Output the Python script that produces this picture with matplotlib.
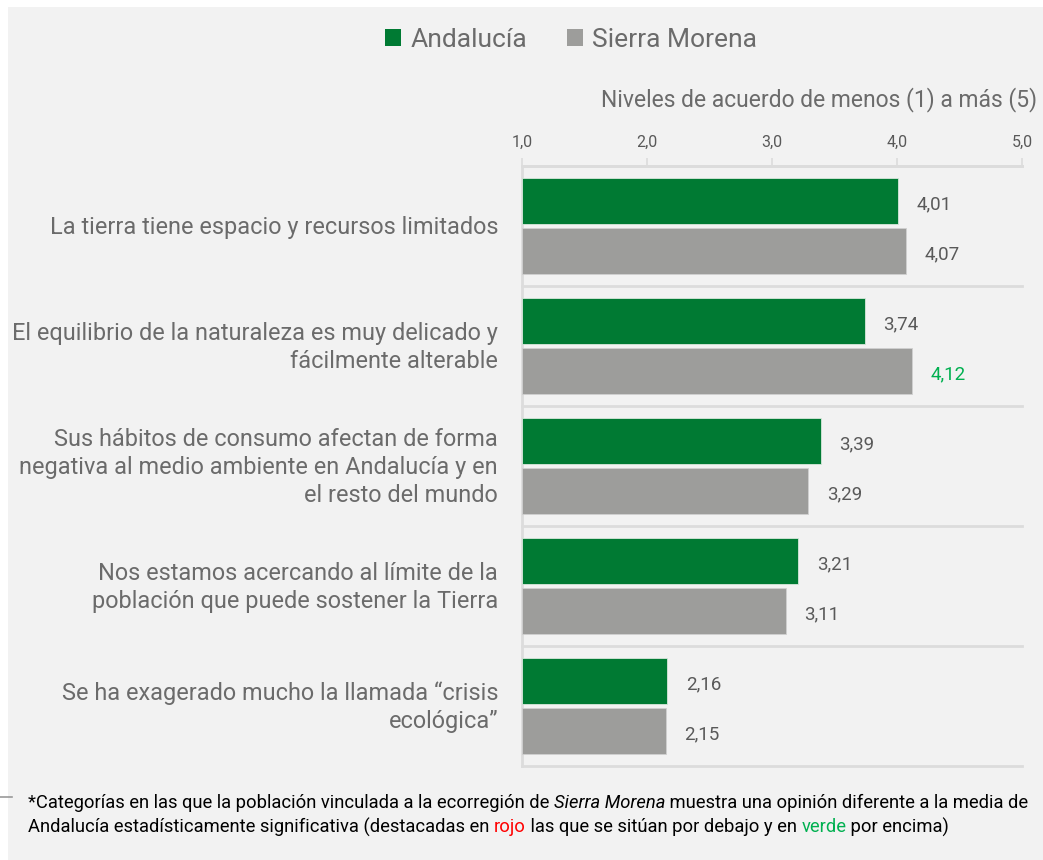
import numpy as np
import matplotlib
matplotlib.use("Agg")
import matplotlib.pyplot as plt
import matplotlib.transforms as mtransforms
from matplotlib.patches import Patch

plt.rcParams['font.family'] = ['Roboto', 'DejaVu Sans']

# data
categories = [
    "La tierra tiene espacio y recursos limitados",
    "El equilibrio de la naturaleza es muy delicado y\nfácilmente alterable",
    "Sus hábitos de consumo afectan de forma\nnegativa al medio ambiente en Andalucía y en\nel resto del mundo",
    "Nos estamos acercando al límite de la\npoblación que puede sostener la Tierra",
    "Se ha exagerado mucho la llamada \u201ccrisis\necológica\u201d",
]
andalucia = [4.01, 3.74, 3.39, 3.21, 2.16]
sierra_morena = [4.07, 4.12, 3.29, 3.11, 2.15]
# significant differences: 0 none, 1 above (green)
sierra_signif = [0, 1, 0, 0, 0]
x_ticks = [1.0, 2.0, 3.0, 4.0, 5.0]
series_names = ["Andalucía", "Sierra Morena"]

GREEN = "#007a33"
GREY = "#9d9d9b"
TEXT = "#6b6b6b"
VAL = "#595959"
BG = "#f2f2f2"
GRID = "#dcdcdc"

W, H = 1043, 860
fig = plt.figure(figsize=(W / 100, H / 100), dpi=100)
fig.patch.set_facecolor("white")
# grey panel with a thin white border top/left
fig.patches.append(plt.Rectangle((8 / W, 0), 1, 1 - 7 / H, transform=fig.transFigure,
                                 facecolor=BG, edgecolor="none", zorder=-10))

ax = fig.add_axes([522 / W, 1 - 766 / H, 500 / W, 600 / H])
ax.set_facecolor("none")

n = len(categories)
idx = np.arange(n)
bh = 0.383
pos_a = idx + 0.292
pos_s = idx + 0.708

ax.barh(pos_a, np.array(andalucia) - 1, left=1, height=bh, color=GREEN,
        edgecolor="#d8e8dc", linewidth=0.6, zorder=3)
ax.barh(pos_s, np.array(sierra_morena) - 1, left=1, height=bh, color=GREY,
        edgecolor="#d0d0d0", linewidth=0.6, zorder=3)

for p, v in zip(pos_a, andalucia):
    ax.text(v + 0.15, p + 0.03, f"{v:.2f}".replace(".", ","), va="center", ha="left",
            fontsize=13.5, color=VAL)
for p, v, s in zip(pos_s, sierra_morena, sierra_signif):
    c = "#00b050" if s == 1 else VAL
    ax.text(v + 0.15, p + 0.03, f"{v:.2f}".replace(".", ","), va="center", ha="left",
            fontsize=13.5, color=c)

ax.set_xlim(1, 5)
ax.set_ylim(n, 0)
ax.xaxis.tick_top()
ax.set_xticks(x_ticks)
ax.set_xticklabels([f"{t:.1f}".replace(".", ",") for t in x_ticks])
ax.tick_params(axis="x", length=6, width=1.2, color=GRID, labelcolor=VAL,
               labelsize=11.5, pad=6)
ax.set_yticks([])
for b in range(n + 1):
    ax.axhline(b, color=GRID, linewidth=2, zorder=1, clip_on=False)
for side in ["right", "bottom"]:
    ax.spines[side].set_visible(False)
ax.spines["top"].set_color(GRID)
ax.spines["top"].set_linewidth(2)
ax.spines["left"].set_color(GRID)
ax.spines["left"].set_linewidth(2)

label_tr = mtransforms.blended_transform_factory(fig.transFigure, ax.transData)
for i, cat in enumerate(categories):
    fig.text(498 / W, i + 0.51, cat, transform=label_tr, ha="right", va="center",
             fontsize=16.9, color=TEXT, linespacing=1.28)

fig.text(1037 / W, 1 - 100 / H, "Niveles de acuerdo de menos (1) a más (5)", ha="right",
         va="center", fontsize=16.5, color=TEXT)

handles = [Patch(facecolor=GREEN, edgecolor="none"), Patch(facecolor=GREY, edgecolor="none")]
fig.legend(handles, series_names, loc="center", bbox_to_anchor=(571 / W, 1 - 40 / H), ncol=2,
           frameon=False, fontsize=19, labelcolor=TEXT, handlelength=0.6, handleheight=0.6,
           handletextpad=0.35, columnspacing=1.5)

# small grey mark at the left of the footnote
fig.add_artist(plt.Line2D([0, 12 / W], [1 - 797 / H, 1 - 797 / H], transform=fig.transFigure,
                          color="#999999", linewidth=1.2))

# footnote with mixed styles
fig.canvas.draw()
renderer = fig.canvas.get_renderer()
line1 = [("*Categorías en las que la población vinculada a la ecorregión de ", "normal", "black"),
         ("Sierra Morena", "italic", "black"),
         (" muestra una opinión diferente a la media de", "normal", "black")]
line2 = [("Andalucía estadísticamente significativa (destacadas en ", "normal", "black"),
         ("rojo", "normal", "#ff0000"),
         (" las que se sitúan por debajo y en ", "normal", "black"),
         ("verde", "normal", "#00b050"),
         (" por encima)", "normal", "black")]
for parts, ypx in [(line1, 803), (line2, 827)]:
    x = 28
    for s, style, col in parts:
        t = fig.text(x / W, 1 - ypx / H, s, ha="left", va="center", fontsize=13.2,
                     style=style, color=col)
        bb = t.get_window_extent(renderer)
        x += bb.width

fig.savefig("out.png", dpi=100, facecolor=fig.get_facecolor())
